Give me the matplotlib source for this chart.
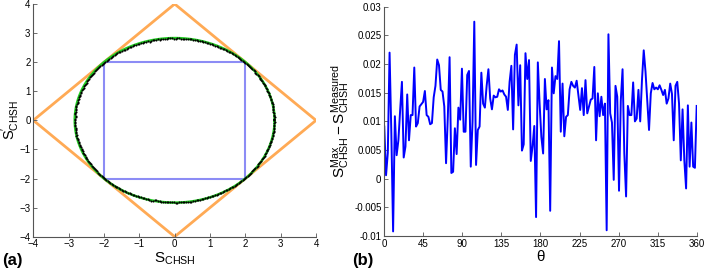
import numpy as np
import matplotlib
matplotlib.use("Agg")
import matplotlib.pyplot as plt

plt.rcParams['font.family'] = ['Liberation Sans', 'DejaVu Sans']
plt.rcParams['mathtext.fontset'] = 'custom'
plt.rcParams['mathtext.rm'] = 'Liberation Sans'
plt.rcParams['mathtext.it'] = 'Liberation Sans'

# Difference S_max - S_measured vs theta (degrees)
diff = [0.0091, 0.0006, 0.0045, 0.0220, 0.0080, -0.0092, 0.0109, 0.0041, 0.0067, 0.0120,
        0.0169, 0.0037, 0.0056, 0.0147, 0.0067, 0.0111, 0.0111, 0.0194, 0.0091, 0.0097,
        0.0126, 0.0130, 0.0134, 0.0153, 0.0111, 0.0108, 0.0095, 0.0097, 0.0142, 0.0162,
        0.0208, 0.0198, 0.0155, 0.0152, 0.0126, 0.0027, 0.0108, 0.0212, 0.0010, 0.0012,
        0.0088, 0.0043, 0.0124, 0.0103, 0.0192, 0.0082, 0.0082, 0.0181, 0.0188, 0.0021,
        0.0099, 0.0274, 0.0024, 0.0085, 0.0091, 0.0185, 0.0131, 0.0124, 0.0162, 0.0191,
        0.0140, 0.0121, 0.0145, 0.0142, 0.0143, 0.0156, 0.0152, 0.0154, 0.0147, 0.0143,
        0.0120, 0.0169, 0.0197, 0.0086, 0.0216, 0.0234, 0.0128, 0.0198, 0.0049, 0.0060,
        0.0219, 0.0174, 0.0207, 0.0031, 0.0056, 0.0092, -0.0067, 0.0203, 0.0131, 0.0073,
        0.0044, 0.0174, 0.0121, 0.0137, -0.0056, 0.0194, 0.0149, 0.0179, 0.0174, 0.0240,
        0.0082, 0.0166, 0.0074, 0.0108, 0.0111, 0.0156, 0.0169, 0.0162, 0.0159, 0.0171,
        0.0146, 0.0120, 0.0158, 0.0111, 0.0172, 0.0114, 0.0126, 0.0138, 0.0140, 0.0195,
        0.0067, 0.0149, 0.0109, 0.0143, 0.0111, 0.0131, -0.0090, 0.0252, 0.0114, 0.0098,
        -0.0002, 0.0162, 0.0143, -0.0021, 0.0136, 0.0191, 0.0044, -0.0031, 0.0127, 0.0111,
        0.0111, 0.0168, 0.0100, 0.0105, 0.0155, 0.0100, 0.0172, 0.0224, 0.0187, 0.0137,
        0.0085, 0.0149, 0.0167, 0.0156, 0.0159, 0.0156, 0.0163, 0.0155, 0.0146, 0.0155,
        0.0131, 0.0140, 0.0166, 0.0148, 0.0067, 0.0162, 0.0169, 0.0131, 0.0032, 0.0121,
        0.0032, -0.0017, 0.0128, 0.0021, 0.0098, 0.0021, 0.0019, 0.0127]
theta = np.linspace(0, 360, len(diff))

s_max = 2 * np.sqrt(2)
diamond_x = [0, 4, 0, -4, 0]
diamond_y = [4, 0, -4, 0, 4]
square_x = [-2, 2, 2, -2, -2]
square_y = [2, 2, -2, -2, 2]

fig = plt.figure(figsize=(7.06, 2.70), dpi=100)
axA = fig.add_axes([0.0472, 0.1233, 0.4004, 0.862])
axB = fig.add_axes([0.5443, 0.1259, 0.4425, 0.849])

gray = '#555555'
for ax in (axA, axB):
    for s in ('top', 'right'):
        ax.spines[s].set_visible(False)
    for s in ('left', 'bottom'):
        ax.spines[s].set_color(gray)
        ax.spines[s].set_linewidth(0.8)
    ax.tick_params(direction='in', length=3, width=0.6, color=gray, labelsize=7, pad=2)

# Panel (a)
axA.plot(diamond_x, diamond_y, color='#FFAA55', lw=2, zorder=1)
axA.plot(square_x, square_y, color='#8C8CF5', lw=1.5, zorder=2)
phi = np.linspace(0, 2 * np.pi, 400)
axA.plot(s_max * np.cos(phi), s_max * np.sin(phi), color='#22CC22', lw=1.8, zorder=3)
th = np.deg2rad(theta)
r = s_max - np.array(diff)
axA.plot(r * np.cos(th), r * np.sin(th), 'o', color='black', ms=1.5, mew=0, zorder=4)
ang2 = np.deg2rad(theta + 1.0)
axA.plot(r * np.cos(ang2), r * np.sin(ang2), 'o', color='black', ms=1.5, mew=0, zorder=4)
axA.set_xlim(-4, 4)
axA.set_ylim(-4, 4)
axA.set_xticks(range(-4, 5))
axA.set_yticks(range(-4, 5))
axA.set_xlabel(r'$\mathrm{S}_{\mathrm{CHSH}}$', fontsize=11, labelpad=1)
axA.set_ylabel(r"$\mathrm{S}^{\prime}_{\mathrm{CHSH}}$", fontsize=10.5)
axA.yaxis.set_label_coords(-0.04, 0.5)

# Panel (b)
axB.plot(theta, diff, color='#0000FF', lw=1.4)
axB.set_xlim(0, 360)
axB.set_ylim(-0.01, 0.03)
axB.set_xticks(range(0, 361, 45))
axB.set_yticks([-0.01, -0.005, 0, 0.005, 0.01, 0.015, 0.02, 0.025, 0.03])
axB.set_yticklabels(['-0.01', '-0.005', '0', '0.005', '0.01', '0.015', '0.02', '0.025', '0.03'])
axB.set_xlabel(r'$\theta$', fontsize=11, labelpad=0)
axB.set_ylabel(r'$\mathrm{S}^{\mathrm{Max}}_{\mathrm{CHSH}} - \mathrm{S}^{\mathrm{Measured}}_{\mathrm{CHSH}}$',
               fontsize=11, labelpad=2)

fig.text(0.003, 0.02, '(a)', fontsize=12, fontweight='bold')
fig.text(0.499, 0.02, '(b)', fontsize=12, fontweight='bold')

fig.savefig('out.png', dpi=100)
